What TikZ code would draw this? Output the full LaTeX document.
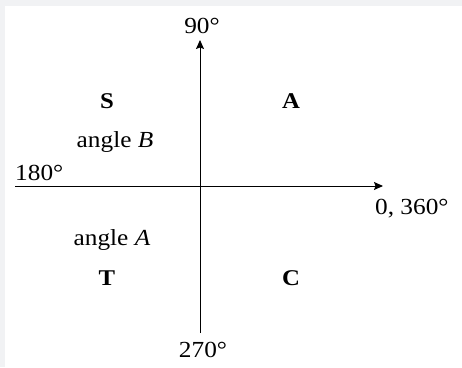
\documentclass[tikz,border=0pt]{standalone}
\usepackage{fontspec}
\setmainfont[FakeStretch=1.1]{Liberation Serif}
\usetikzlibrary{arrows.meta}
\definecolor{bgray}{HTML}{F1F2F4}
\begin{document}
\begin{tikzpicture}[x=1pt,y=1pt,
  lbl/.style={inner sep=0pt,font=\fontsize{23}{27}\selectfont},
  quad/.style={inner sep=0pt,font=\fontsize{22.5}{26}\selectfont\bfseries},
  axis/.style={line width=0.9pt,-{Stealth[length=9pt,width=8pt,inset=1.5pt]}}]
\useasboundingbox (0,0) rectangle (462,367);
\fill[bgray] (0,0) rectangle (462,367);
\fill[white] (5,0) rectangle (462,361);
% axis ends
\coordinate (left) at (15,181);
\coordinate (right) at (383,181);
\coordinate (bottom) at (200,34);
\coordinate (top) at (200,327);
\draw[axis] (left) -- (right);
\draw[axis] (bottom) -- (top);
% labels
\node[lbl,anchor=base] (n90) at (202,333) {90°};
\node[lbl,anchor=base west] (n180) at (15,187) {180°};
\node[lbl,anchor=base west] (n0) at (375,153) {0, 360°};
\node[lbl,anchor=base] (n270) at (203,10) {270°};
\node[lbl,anchor=base] (angB) at (115,219) {angle \textit{B}};
\node[lbl,anchor=base] (angA) at (112,122) {angle \textit{A}};
\node[quad,anchor=base] (S) at (107,258) {S};
\node[quad,anchor=base] (A) at (291,258) {A};
\node[quad,anchor=base] (T) at (107,82) {T};
\node[quad,anchor=base] (C) at (291,82) {C};
\end{tikzpicture}
\end{document}
